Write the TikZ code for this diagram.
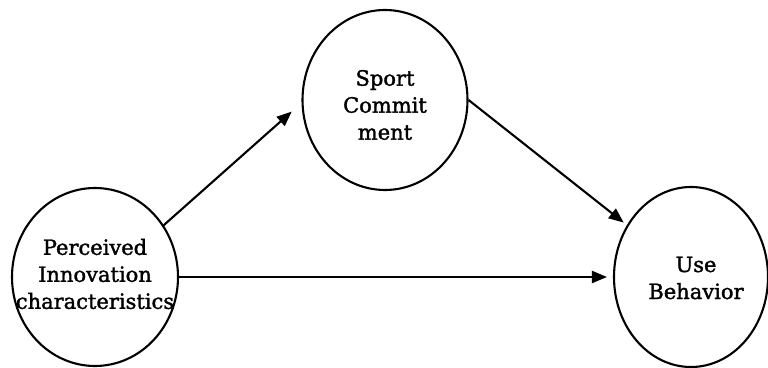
\documentclass[tikz,border=0pt]{standalone}
\usepackage{fontspec}
\setmainfont{DejaVu Serif}[BoldFont=DejaVu Serif, BoldFeatures={FakeBold=1.6}]
\usetikzlibrary{shapes.geometric,arrows.meta}
\begin{document}
\begin{tikzpicture}[x=1pt,y=1pt,
  construct/.style={draw, line width=2.1pt, ellipse, inner sep=0pt},
  caption/.style={align=center, inner sep=0pt,
    font=\fontsize{21}{27}\selectfont\bfseries},
  link/.style={line width=2.1pt, -{Triangle[length=15pt,width=12pt]}}]
\useasboundingbox (0,0) rectangle (768,367);
\node[construct, minimum width=166pt, minimum height=178pt] (L) at (95,90) {};
\node[construct, minimum width=165pt, minimum height=180pt] (T) at (385,267) {};
\node[construct, minimum width=154pt, minimum height=180pt] (R) at (691,90) {};
\node[caption] (Lt) at (95,93) {Perceived\\Innovation\\characteristics};
\node[caption] (Tt) at (385,262) {Sport\\Commit\\ment};
\node[caption] (Rt) at (696,89) {Use\\Behavior};
\draw[link, shorten >=13pt] (L.37) -- (T.182);
\draw[link, shorten >=4pt] (T.0) -- (R.141);
\draw[link, shorten >=6pt] (L) -- (R);
\end{tikzpicture}
\end{document}
